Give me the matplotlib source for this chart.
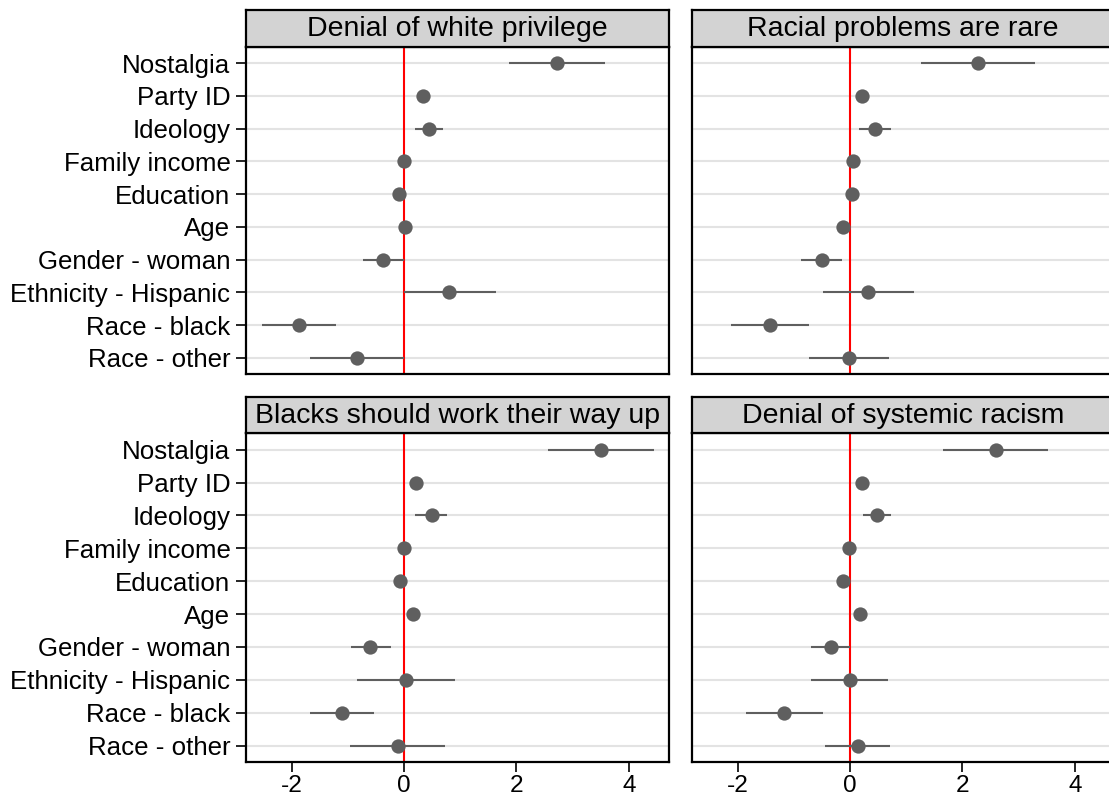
import matplotlib
matplotlib.use('Agg')
import matplotlib.pyplot as plt

plt.rcParams['font.family'] = ['Liberation Sans', 'DejaVu Sans']

predictors = ["Nostalgia", "Party ID", "Ideology", "Family income", "Education",
              "Age", "Gender - woman", "Ethnicity - Hispanic", "Race - black", "Race - other"]

panel_titles = ["Denial of white privilege", "Racial problems are rare",
                "Blacks should work their way up", "Denial of systemic racism"]

est_white_priv = [2.72, 0.33, 0.45, 0.00, -0.09, 0.01, -0.37, 0.80, -1.87, -0.84]
lo_white_priv = [1.86, 0.26, 0.20, -0.05, -0.16, -0.05, -0.74, 0.00, -2.53, -1.67]
hi_white_priv = [3.58, 0.40, 0.70, 0.05, -0.02, 0.07, 0.00, 1.63, -1.22, -0.01]

est_rare = [2.27, 0.21, 0.44, 0.05, 0.04, -0.12, -0.50, 0.32, -1.43, -0.02]
lo_rare = [1.26, 0.14, 0.16, -0.01, -0.02, -0.18, -0.87, -0.48, -2.12, -0.74]
hi_rare = [3.29, 0.28, 0.72, 0.11, 0.10, -0.06, -0.14, 1.13, -0.74, 0.69]

est_work = [3.50, 0.22, 0.49, 0.00, -0.07, 0.15, -0.60, 0.04, -1.10, -0.11]
lo_work = [2.57, 0.15, 0.20, -0.05, -0.13, 0.09, -0.95, -0.84, -1.68, -0.96]
hi_work = [4.44, 0.29, 0.77, 0.05, -0.01, 0.21, -0.24, 0.91, -0.53, 0.72]

est_systemic = [2.59, 0.22, 0.48, -0.02, -0.13, 0.18, -0.34, -0.01, -1.17, 0.14]
lo_systemic = [1.65, 0.15, 0.23, -0.07, -0.19, 0.12, -0.69, -0.69, -1.86, -0.45]
hi_systemic = [3.53, 0.29, 0.73, 0.03, -0.07, 0.24, 0.00, 0.68, -0.48, 0.71]

x_ticks = [-2, 0, 2, 4]

panels = [
    (est_white_priv, lo_white_priv, hi_white_priv),
    (est_rare, lo_rare, hi_rare),
    (est_work, lo_work, hi_work),
    (est_systemic, lo_systemic, hi_systemic),
]

W, H = 1109, 801
fig = plt.figure(figsize=(W / 100, H / 100), dpi=100)

def fx(px):
    return px / W

def fy(py):
    return 1 - py / H

col_left = [245.7, 691.7]
col_w = 423.0
row_top = [46.7, 433.3]
row_bot = [374.3, 762.0]
strip_top = [10.0, 396.7]

ypos = list(range(1, len(predictors) + 1))

for i, (title, (est, lo, hi)) in enumerate(zip(panel_titles, panels)):
    r, c = divmod(i, 2)
    left = fx(col_left[c])
    width = col_w / W
    bottom = fy(row_bot[r])
    height = (row_bot[r] - row_top[r]) / H
    ax = fig.add_axes([left, bottom, width, height])
    ax.set_xlim(-2.82, 4.71)
    ax.set_ylim(10.5, 0.5)
    for y in ypos:
        ax.axhline(y, color='#e3e3e3', lw=1.5, zorder=1)
    ax.axvline(0, color='#ff0000', lw=1.5, zorder=2)
    for y, e, l, h in zip(ypos, est, lo, hi):
        ax.plot([l, h], [y, y], color='#5f5f5f', lw=1.5, zorder=3, solid_capstyle='butt')
    ax.plot(est, ypos, 'o', color='#5f5f5f', markersize=10.3, zorder=4, markeredgewidth=0)
    ax.set_yticks(ypos)
    if c == 0:
        ax.set_yticklabels(predictors, fontsize=18.6)
        ax.tick_params(axis='y', length=7, width=1.2, pad=4, color='black')
    else:
        ax.set_yticklabels([])
        ax.tick_params(axis='y', length=0)
    ax.set_xticks(x_ticks)
    if r == 1:
        ax.set_xticklabels([str(t) for t in x_ticks], fontsize=17.6)
        ax.tick_params(axis='x', length=7.2, width=1.2, pad=2.5)
    else:
        ax.set_xticklabels([])
        ax.tick_params(axis='x', length=0)
    for s in ax.spines.values():
        s.set_linewidth(1.6)
        s.set_color('black')
    # strip
    sax = fig.add_axes([left, fy(row_top[r]), width, (row_top[r] - strip_top[r]) / H])
    sax.set_facecolor('#d3d3d3')
    sax.set_xticks([])
    sax.set_yticks([])
    for s in sax.spines.values():
        s.set_linewidth(1.6)
        s.set_color('black')
    sax.text(0.5, 0.47, title, ha='center', va='center', fontsize=20.5,
             transform=sax.transAxes)

fig.savefig('out.png', dpi=100)
